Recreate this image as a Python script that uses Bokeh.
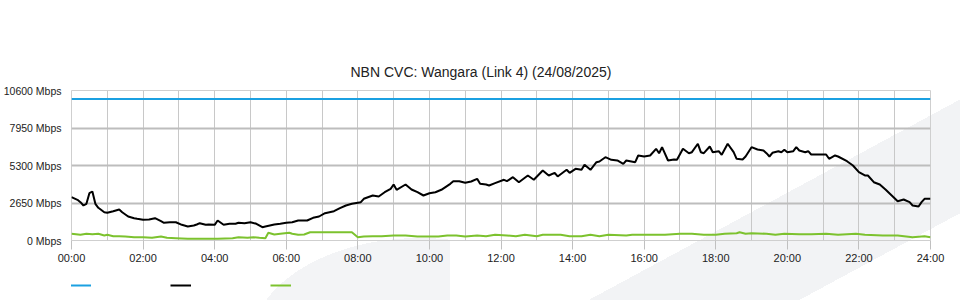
from bokeh.plotting import figure
from bokeh.layouts import column
from bokeh.models import FixedTicker, Legend, LegendItem, Range1d, InlineStyleSheet
from bokeh.core.properties import value
from bokeh.embed import file_html
from bokeh.resources import INLINE

TITLE = "NBN CVC: Wangara (Link 4) (24/08/2025)"

# x positions in minutes since 00:00
x_tick_minutes = [0, 120, 240, 360, 480, 600, 720, 840, 960, 1080, 1200, 1320, 1440]
x_tick_labels = ["00:00", "02:00", "04:00", "06:00", "08:00", "10:00", "12:00",
                 "14:00", "16:00", "18:00", "20:00", "22:00", "24:00"]
x_grid_minutes = [0, 60, 120, 180, 240, 300, 360, 420, 480, 540, 600, 660, 720, 780,
                  840, 900, 960, 1020, 1080, 1140, 1200, 1260, 1320, 1380, 1440]
y_tick_values = [0, 2650, 5300, 7950, 10600]
y_tick_labels = ["0 Mbps", "2650 Mbps", "5300 Mbps", "7950 Mbps", "10600 Mbps"]

# capacity (blue)
cap_min = [0, 1440]
cap_mbps = [10000, 10000]

# traffic (black)
black_min = [0, 10, 15, 20, 25, 30, 35, 40, 45, 55, 60, 70, 80, 85, 95, 105, 110, 120,
             130, 140, 150, 155, 165, 175, 185, 195, 205, 210, 215, 225, 230, 240, 245,
             255, 265, 275, 280, 290, 300, 310, 320, 325, 340, 350, 360, 370, 380, 395,
             405, 415, 425, 440, 450, 460, 470, 485, 490, 505, 515, 525, 535, 540, 545,
             560, 570, 580, 590, 600, 610, 620, 635, 640, 650, 660, 670, 680, 685, 695,
             700, 710, 725, 730, 740, 750, 765, 775, 790, 800, 810, 815, 830, 835, 845,
             855, 860, 870, 880, 885, 895, 905, 915, 925, 930, 945, 950, 960, 970, 980,
             985, 990, 1000, 1010, 1015, 1025, 1035, 1040, 1050, 1055, 1060, 1070, 1075,
             1085, 1090, 1100, 1110, 1115, 1125, 1130, 1140, 1150, 1160, 1165, 1170, 1175,
             1185, 1190, 1195, 1200, 1210, 1215, 1220, 1230, 1235, 1240, 1250, 1260, 1265,
             1270, 1280, 1285, 1300, 1310, 1320, 1330, 1335, 1345, 1355, 1365, 1375, 1385,
             1395, 1405, 1410, 1420, 1425, 1430, 1440]
black_mbps = [3060, 2876, 2707, 2473, 2594, 3343, 3463, 2594, 2311, 2000, 1957, 2071, 2191,
              2000, 1696, 1576, 1533, 1463, 1486, 1576, 1364, 1251, 1290, 1290, 1109, 989,
              1060, 1130, 1223, 1109, 1130, 1109, 1413, 1109, 1180, 1180, 1251, 1223, 1293,
              1180, 940, 989, 1130, 1180, 1251, 1293, 1413, 1413, 1604, 1696, 1930, 2071,
              2283, 2473, 2594, 2707, 2947, 3180, 3110, 3413, 3653, 3957, 3583, 3957, 3604,
              3413, 3180, 3343, 3413, 3583, 4007, 4191, 4191, 4078, 4170, 4360, 4007, 3957,
              3887, 4050, 4290, 4191, 4474, 4120, 4594, 4290, 4947, 4594, 4784, 4523, 4996,
              4784, 5067, 4996, 5350, 4996, 5533, 5583, 5887, 5703, 5654, 5420, 5654, 5533,
              6007, 5936, 6007, 6480, 6170, 6594, 5654, 5724, 5703, 6480, 6170, 6240, 6834,
              6240, 6170, 6643, 6240, 6311, 6056, 6834, 6240, 5774, 5724, 5936, 6594, 6431,
              6360, 6170, 5936, 6198, 6311, 6240, 6410, 6240, 6311, 6594, 6360, 6240, 6311,
              6078, 6078, 6078, 6078, 5774, 6007, 5936, 5604, 5300, 4827, 4594, 4594, 4120,
              3957, 3583, 3180, 2777, 2897, 2707, 2473, 2403, 2707, 2947, 2947]

# traffic (green)
green_min = [0, 15, 25, 35, 45, 55, 60, 70, 80, 90, 105, 120, 135, 150, 160, 175, 195,
             215, 245, 270, 280, 295, 305, 315, 325, 330, 340, 350, 365, 370, 380, 390,
             400, 430, 470, 480, 490, 505, 520, 540, 560, 580, 600, 615, 630, 645, 660,
             680, 695, 710, 730, 745, 760, 780, 790, 820, 835, 855, 870, 885, 900, 930,
             940, 970, 995, 1020, 1040, 1060, 1080, 1095, 1115, 1120, 1130, 1140, 1165,
             1180, 1195, 1220, 1240, 1265, 1285, 1315, 1330, 1360, 1385, 1410, 1430, 1440]
green_mbps = [473, 403, 473, 438, 473, 353, 403, 304, 304, 283, 233, 233, 191, 283, 191,
              163, 120, 120, 120, 163, 233, 191, 233, 191, 163, 544, 424, 473, 544, 473,
              403, 424, 587, 587, 587, 233, 283, 297, 297, 353, 353, 283, 283, 283, 353,
              353, 283, 353, 297, 403, 353, 297, 413, 304, 403, 403, 304, 304, 403, 304,
              403, 353, 403, 403, 403, 473, 473, 403, 403, 473, 516, 587, 473, 516, 473,
              403, 473, 438, 438, 473, 403, 473, 403, 353, 353, 233, 304, 233]

BLUE = "#1ba0e1"
BLACK = "#000000"
GREEN = "#7cc22e"
FONT = "Liberation Sans"

# light decorative page background (diagonal band + swoosh), as CSS behind the canvases
page_css = InlineStyleSheet(css="""
:host {
  background-color: #ffffff;
  background-image:
    radial-gradient(ellipse 170px 108px at 170px 110px, #f3f4f6 100%, rgba(243,244,246,0) 100%),
    linear-gradient(151.63deg, rgba(242,243,245,0) 75.5%, #f2f3f5 75.5%, #f2f3f5 89.4%, rgba(242,243,245,0) 89.4%);
  background-position: 250px 236px, 0px 0px;
  background-size: 200px 64px, 960px 300px;
  background-repeat: no-repeat, no-repeat;
}
""")

p = figure(width=960, height=272, output_backend="svg", toolbar_location=None,
           x_range=Range1d(0, 1440), y_range=Range1d(0, 10600),
           min_border_left=70, min_border_right=30, min_border_top=90,
           min_border_bottom=32, background_fill_color=None,
           border_fill_color=None, outline_line_color="#cfcfcf",
           outline_line_width=1)

p.title.text = TITLE
p.title.text_font = FONT
p.title.text_font_size = "14px"
p.title.text_font_style = "normal"
p.title.text_color = "#222222"
p.title.align = "left"
p.title.offset = 279
p.title.standoff = 22

# grids
p.xgrid.ticker = FixedTicker(ticks=x_grid_minutes)
p.xgrid.grid_line_color = "#c8c8c8"
p.xgrid.grid_line_width = 1
p.ygrid.ticker = FixedTicker(ticks=y_tick_values[:-1])
p.ygrid.grid_line_color = "#bdbdbd"
p.ygrid.grid_line_width = 2

# x axis
xa = p.xaxis[0]
xa.ticker = FixedTicker(ticks=x_tick_minutes)
xa.major_label_overrides = {m: lab for m, lab in zip(x_tick_minutes, x_tick_labels)}
xa.axis_line_color = None
xa.major_tick_line_color = "#c0c0c0"
xa.major_tick_out = 9
xa.major_tick_in = 0
xa.minor_tick_line_color = None
xa.minor_tick_out = 0
xa.minor_tick_in = 0
xa.major_label_standoff = 2
xa.major_label_text_font = FONT
xa.major_label_text_font_size = "11px"
xa.major_label_text_color = "#222222"

# y axis
ya = p.yaxis[0]
ya.ticker = FixedTicker(ticks=y_tick_values)
ya.major_label_overrides = {v: lab for v, lab in zip(y_tick_values, y_tick_labels)}
ya.axis_line_color = None
ya.major_tick_line_color = None
ya.minor_tick_line_color = None
ya.major_tick_out = 0
ya.major_tick_in = 0
ya.major_label_standoff = 10
ya.major_label_text_font = FONT
ya.major_label_text_font_size = "10.5px"
ya.major_label_text_color = "#222222"

p.line(green_min, green_mbps, line_color=GREEN, line_width=2)
p.line(black_min, black_mbps, line_color=BLACK, line_width=2)
p.line(cap_min, cap_mbps, line_color=BLUE, line_width=2)

# legend strip below the chart (unlabelled colour keys, as in the original)
lg = figure(width=960, height=28, output_backend="svg", toolbar_location=None,
            title=None, x_axis_type=None, y_axis_type=None,
            min_border_left=0, min_border_right=0, min_border_top=0, min_border_bottom=0,
            background_fill_color=None, border_fill_color=None, outline_line_color=None,
            x_range=Range1d(0, 1), y_range=Range1d(0, 1))
lg.xgrid.visible = False
lg.ygrid.visible = False
# key renderers carry no visible data (placed outside the strip's range)
k_blue = lg.line([5, 6], [5, 6], line_color=BLUE, line_width=2)
k_black = lg.line([5, 6], [5, 6], line_color=BLACK, line_width=2)
k_green = lg.line([5, 6], [5, 6], line_color=GREEN, line_width=2)

legend = Legend(items=[LegendItem(label=value(" "), renderers=[k_blue]),
                       LegendItem(label=value(" "), renderers=[k_black]),
                       LegendItem(label=value(" "), renderers=[k_green])],
                orientation="horizontal", location=(-1, 10),
                glyph_width=21, glyph_height=10, label_standoff=0, label_width=79,
                label_height=10, label_text_font_size="8px", spacing=0, padding=0,
                margin=0, border_line_color=None, background_fill_alpha=0)
lg.add_layout(legend)

layout = column(p, lg, spacing=0, stylesheets=[page_css])

open("out.html", "w").write(file_html(layout, INLINE))
